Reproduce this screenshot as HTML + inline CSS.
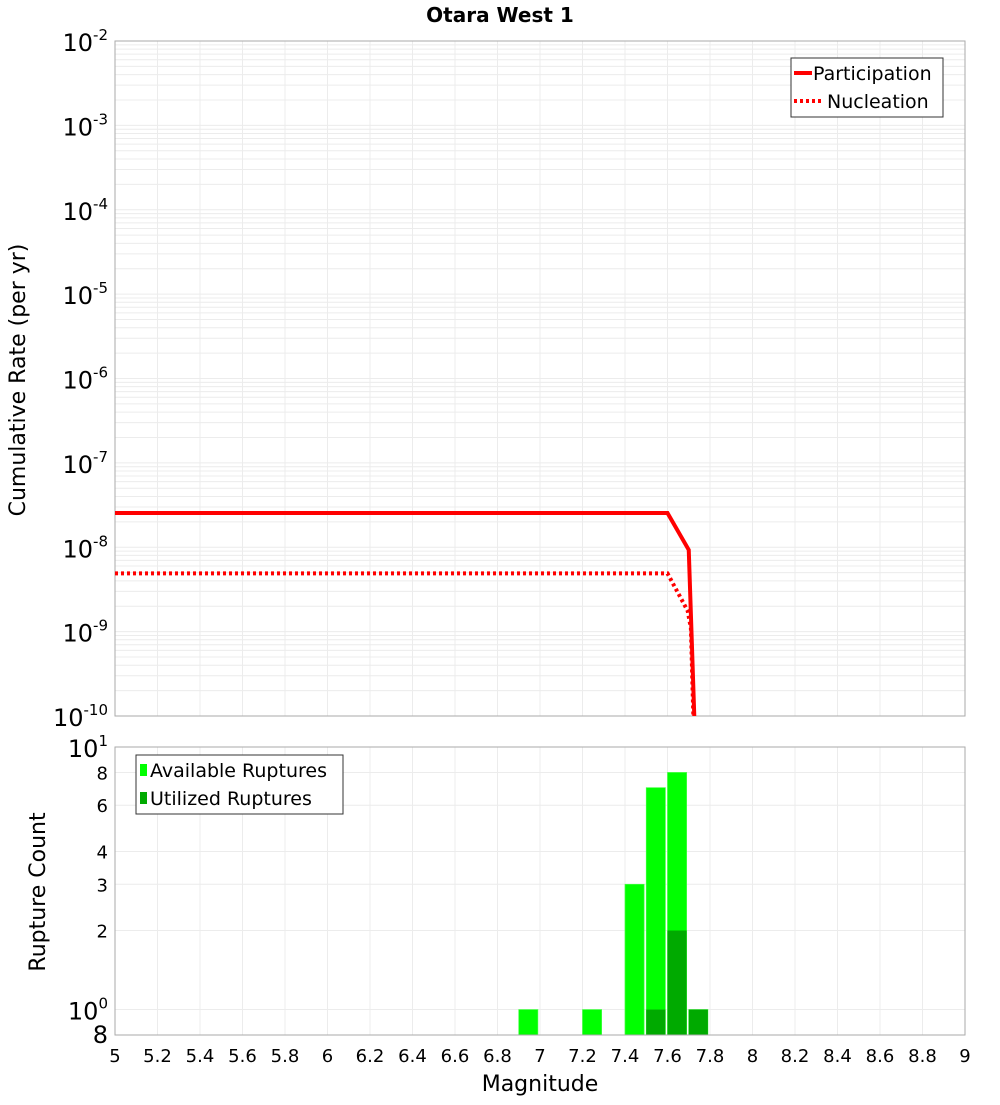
<!DOCTYPE html>
<html><head><meta charset="utf-8"><style>
body{margin:0;background:#fff;font-family:"Liberation Sans","DejaVu Sans",sans-serif}
svg text{font-family:"DejaVu Sans","Liberation Sans",sans-serif}
</style></head><body>
<svg id="c" width="1000" height="1100" xmlns="http://www.w3.org/2000/svg">
<text x="500" y="22" text-anchor="middle" font-size="20" font-weight="bold">Otara West 1</text>
<g id="topg"></g>
<g id="botg"></g>
<text transform="translate(25,380) rotate(-90)" text-anchor="middle" font-size="22">Cumulative Rate (per yr)</text>
<text transform="translate(45,892) rotate(-90)" text-anchor="middle" font-size="22">Rupture Count</text>
<text x="540" y="1091" text-anchor="middle" font-size="22">Magnitude</text>
</svg>
<script>
const partMags=[5.0,7.6,7.7,7.73];
const partRates=[2.55e-8,2.55e-8,9.3e-9,5e-11];
const nuclMags=[5.0,7.6,7.695,7.71,7.725];
const nuclRates=[4.9e-9,4.9e-9,1.76e-9,1.1e-9,5e-11];
const binStarts=[6.9,7.2,7.4,7.5,7.6,7.7];
const availCounts=[1,1,3,7,8,1];
const utilCounts=[0,0,0,1,2,1];
const xTicks=[5,5.2,5.4,5.6,5.8,6,6.2,6.4,6.6,6.8,7,7.2,7.4,7.6,7.8,8,8.2,8.4,8.6,8.8,9];
const countTicks=[8,6,4,3,2];
const decades=[-2,-3,-4,-5,-6,-7,-8,-9,-10];

const NS='http://www.w3.org/2000/svg';
const L=115,R=965,T1=41,B1=716,T2=747,B2=1035;
const X=m=>L+(m-5)/4*(R-L);
const Y1=v=>T1+(-2-Math.log10(v))/8*(B1-T1);
const Y2=v=>T2+(1-Math.log10(v))/(1-Math.log10(0.8))*(B2-T2);
function mk(p,t,a){const e=document.createElementNS(NS,t);for(const k in a)e.setAttribute(k,a[k]);p.appendChild(e);return e;}
const gTop=document.getElementById('topg'),gBot=document.getElementById('botg');
const cl=mk(document.getElementById('c'),'clipPath',{id:'cp1'});mk(cl,'rect',{x:L,y:T1,width:R-L,height:B1-T1});

for(let d=-10;d<-2;d++){for(let k=1;k<10;k++){const y=Y1(k*Math.pow(10,d));
const g=mk(gTop,'line',{x1:L,x2:R,y1:y,y2:y,stroke:'#ececec','stroke-width':1});

}}
xTicks.forEach(tk=>{
const g=mk(gTop,'line',{x1:X(tk),x2:X(tk),y1:T1,y2:B1,stroke:'#ececec'});


const g2=mk(gBot,'line',{x1:X(tk),x2:X(tk),y1:T2,y2:B2,stroke:'#ececec'});


const tx=mk(gBot,'text',{x:X(tk),y:1062,'text-anchor':'middle','font-size':18});tx.textContent=String(tk);


});
decades.forEach(d=>{const y=Y1(Math.pow(10,d));
const tl=mk(gTop,'text',{x:108,y:y+10,'text-anchor':'end','font-size':24});


tl.innerHTML='10<tspan dy="-11" font-size="15">'+d+'</tspan>';});
mk(gTop,'rect',{x:L,y:T1,width:R-L,height:B1-T1,fill:'none',stroke:'#aaa'});
function line(ms,vs,dash,name){let d='';ms.forEach((m,i)=>{d+=(i?'L':'M')+X(m)+','+Y1(vs[i]);});
const p=mk(gTop,'path',{d,fill:'none',stroke:'#ff0000','stroke-width':4,'clip-path':'url(#cp1)'});
if(dash)p.setAttribute('stroke-dasharray','3,3');

}
line(partMags,partRates,false,'participation-line');
line(nuclMags,nuclRates,true,'nucleation-line');
const lg=mk(gTop,'g',{});


mk(lg,'rect',{x:791,y:58,width:152,height:59,fill:'#fff',stroke:'#333'});
mk(lg,'line',{x1:794,x2:812,y1:73,y2:73,stroke:'#f00','stroke-width':4});
mk(lg,'line',{x1:794,x2:822,y1:101,y2:101,stroke:'#f00','stroke-width':4,'stroke-dasharray':'3,3'});
let t1=mk(lg,'text',{x:813,y:80,'font-size':19});t1.textContent='Participation';
t1=mk(lg,'text',{x:827,y:108,'font-size':19});t1.textContent='Nucleation';

[10,...countTicks,1,0.8].forEach(v=>{const y=Y2(v);
const g=mk(gBot,'line',{x1:L,x2:R,y1:y,y2:y,stroke:'#ececec'});

});
countTicks.forEach(v=>{const tx=mk(gBot,'text',{x:108,y:Y2(v)+7,'text-anchor':'end','font-size':18});tx.textContent=v;

});
[[10,'1'],[1,'0']].forEach(([v,e])=>{const tx=mk(gBot,'text',{x:108,y:Y2(v)+10,'text-anchor':'end','font-size':24});
tx.innerHTML='10<tspan dy="-11" font-size="15">'+e+'</tspan>';

});
t1=mk(gBot,'text',{x:108,y:1043,'text-anchor':'end','font-size':24});t1.textContent='8';
binStarts.forEach((b,i)=>{
if(availCounts[i]>0){const r=mk(gBot,'rect',{x:X(b),y:Y2(availCounts[i]),width:X(b+0.09)-X(b),height:B2-Y2(availCounts[i]),fill:'#00ff00',stroke:'#44ff44','stroke-width':0.7});

}
if(utilCounts[i]>0){const r=mk(gBot,'rect',{x:X(b),y:Y2(utilCounts[i]),width:X(b+0.09)-X(b),height:B2-Y2(utilCounts[i]),fill:'#00aa00'});

}
});
mk(gBot,'rect',{x:L,y:T2,width:R-L,height:B2-T2,fill:'none',stroke:'#aaa'});
const lg2=mk(gBot,'g',{});


mk(lg2,'rect',{x:136,y:755,width:207,height:59,fill:'#fff',stroke:'#333'});
mk(lg2,'rect',{x:140,y:764,width:7,height:12,fill:'#00ff00'});
mk(lg2,'rect',{x:140,y:792,width:7,height:12,fill:'#00aa00'});
t1=mk(lg2,'text',{x:150,y:777,'font-size':19});t1.textContent='Available Ruptures';
t1=mk(lg2,'text',{x:150,y:805,'font-size':19});t1.textContent='Utilized Ruptures';
</script>
</body></html>
